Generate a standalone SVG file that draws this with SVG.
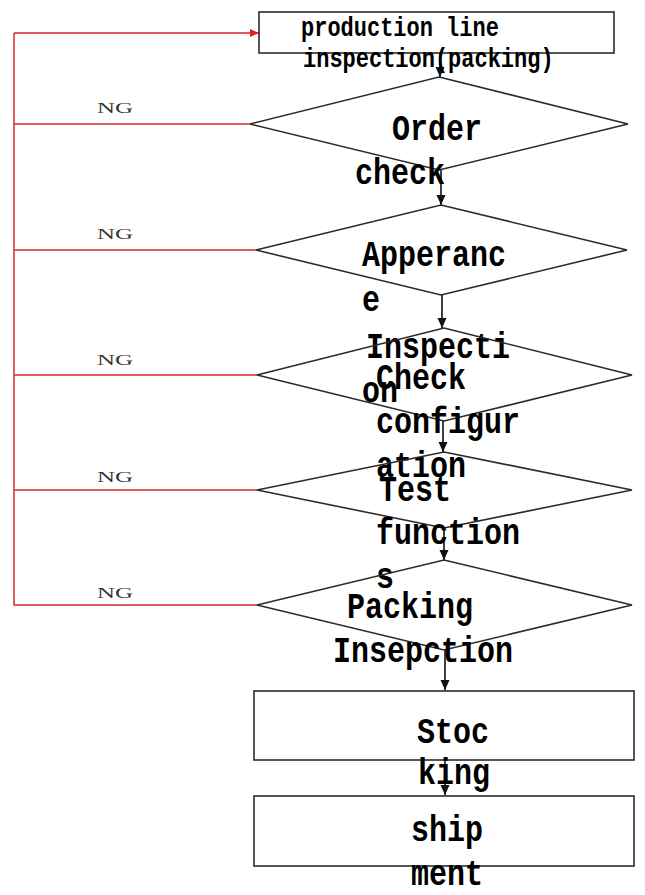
<svg xmlns="http://www.w3.org/2000/svg" width="645" height="895" viewBox="0 0 645 895">
<style>
.shape{fill:none;stroke:#2b2b2b;stroke-width:1.6}
.flow{fill:none;stroke:#111;stroke-width:1.6}
.ng{fill:none;stroke:#d22a2a;stroke-width:1.5}
.big{font-family:"Liberation Mono",monospace;font-weight:bold;font-size:30px;fill:#000}
.small{font-family:"Liberation Mono",monospace;font-weight:bold;font-size:22px;fill:#000}
.lbl{font-family:"Liberation Serif",serif;font-size:14px;fill:#333}
</style>
<defs>
<marker id="ah" viewBox="0 0 10 10" refX="10" refY="5" markerWidth="10" markerHeight="10" markerUnits="userSpaceOnUse" orient="auto">
<path d="M0,0.5 L10,5 L0,9.5 Z" fill="#111"/>
</marker>
<marker id="ahr" viewBox="0 0 10 10" refX="10" refY="5" markerWidth="9" markerHeight="9" markerUnits="userSpaceOnUse" orient="auto">
<path d="M0,0.5 L10,5 L0,9.5 Z" fill="#e02020"/>
</marker>
</defs>
<g id="connectors">
<line class="flow" x1="440" y1="53" x2="440" y2="77" marker-end="url(#ah)"/>
<line class="flow" x1="441" y1="170" x2="441" y2="205" marker-end="url(#ah)"/>
<line class="flow" x1="442" y1="295" x2="442" y2="328" marker-end="url(#ah)"/>
<line class="flow" x1="443" y1="421" x2="443" y2="452" marker-end="url(#ah)"/>
<line class="flow" x1="444" y1="528" x2="444" y2="560" marker-end="url(#ah)"/>
<line class="flow" x1="445" y1="650" x2="445" y2="690" marker-end="url(#ah)"/>
<line class="flow" x1="445" y1="760" x2="445" y2="795" marker-end="url(#ah)"/>
<polyline class="ng" points="250,124 14,124"/>
<polyline class="ng" points="256,250 14,250"/>
<polyline class="ng" points="257,375 14,375"/>
<polyline class="ng" points="257,490 14,490"/>
<polyline class="ng" points="257,605 14,605 14,33"/>
<line x1="14" y1="33" x2="259" y2="33" stroke="#e02020" stroke-width="1.5" marker-end="url(#ahr)"/>
<text class="lbl" x="97" y="113" textLength="36" lengthAdjust="spacingAndGlyphs">NG</text>
<text class="lbl" x="97" y="239" textLength="36" lengthAdjust="spacingAndGlyphs">NG</text>
<text class="lbl" x="97" y="365" textLength="36" lengthAdjust="spacingAndGlyphs">NG</text>
<text class="lbl" x="97" y="482" textLength="36" lengthAdjust="spacingAndGlyphs">NG</text>
<text class="lbl" x="97" y="598" textLength="36" lengthAdjust="spacingAndGlyphs">NG</text>
</g>
<g id="n-production">
<rect class="shape" x="259" y="12" width="355" height="41"/>
<text class="small" transform="translate(301,36) scale(1,1.22)">production line</text>
<text class="small" transform="translate(303,67) scale(1,1.22)">inspection(packing)</text>
</g>
<g id="n-order">
<polygon class="shape" points="439,77 628,124 439,170 250,124"/>
<text class="big" transform="translate(392,140) scale(1,1.25)">Order</text>
<text class="big" transform="translate(355,184) scale(1,1.25)">check</text>
</g>
<g id="n-appearance">
<polygon class="shape" points="441,205 627,250 441,295 256,250"/>
<text class="big" transform="translate(362,266) scale(1,1.25)">Apperanc</text>
<text class="big" transform="translate(362,311) scale(1,1.25)">e</text>
<text class="big" transform="translate(366,358) scale(1,1.25)">Inspecti</text>
<text class="big" transform="translate(362,402) scale(1,1.25)">on</text>
</g>
<g id="n-config">
<polygon class="shape" points="444,328 632,375 444,421 257,375"/>
<text class="big" transform="translate(376,389) scale(1,1.25)">Check</text>
<text class="big" transform="translate(376,433) scale(1,1.25)">configur</text>
<text class="big" transform="translate(376,477) scale(1,1.25)">ation</text>
</g>
<g id="n-test">
<polygon class="shape" points="444,452 632,490 444,528 257,490"/>
<text class="big" transform="translate(379,501) scale(1,1.25)">Test</text>
<text class="big" transform="translate(376,544) scale(1,1.25)">function</text>
<text class="big" transform="translate(376,588) scale(1,1.25)">s</text>
</g>
<g id="n-packing">
<polygon class="shape" points="444,560 632,605 444,650 257,605"/>
<text class="big" transform="translate(347,618) scale(1,1.25)">Packing</text>
<text class="big" transform="translate(333,662) scale(1,1.25)">Insepction</text>
</g>
<g id="n-stocking">
<rect class="shape" x="254" y="691" width="380" height="69"/>
<text class="big" transform="translate(417,743) scale(1,1.25)">Stoc</text>
<text class="big" transform="translate(418,784) scale(1,1.25)">king</text>
</g>
<g id="n-shipment">
<rect class="shape" x="254" y="796" width="380" height="70"/>
<text class="big" transform="translate(411,841) scale(1,1.25)">ship</text>
<text class="big" transform="translate(411,885) scale(1,1.25)">ment</text>
</g>
</svg>
